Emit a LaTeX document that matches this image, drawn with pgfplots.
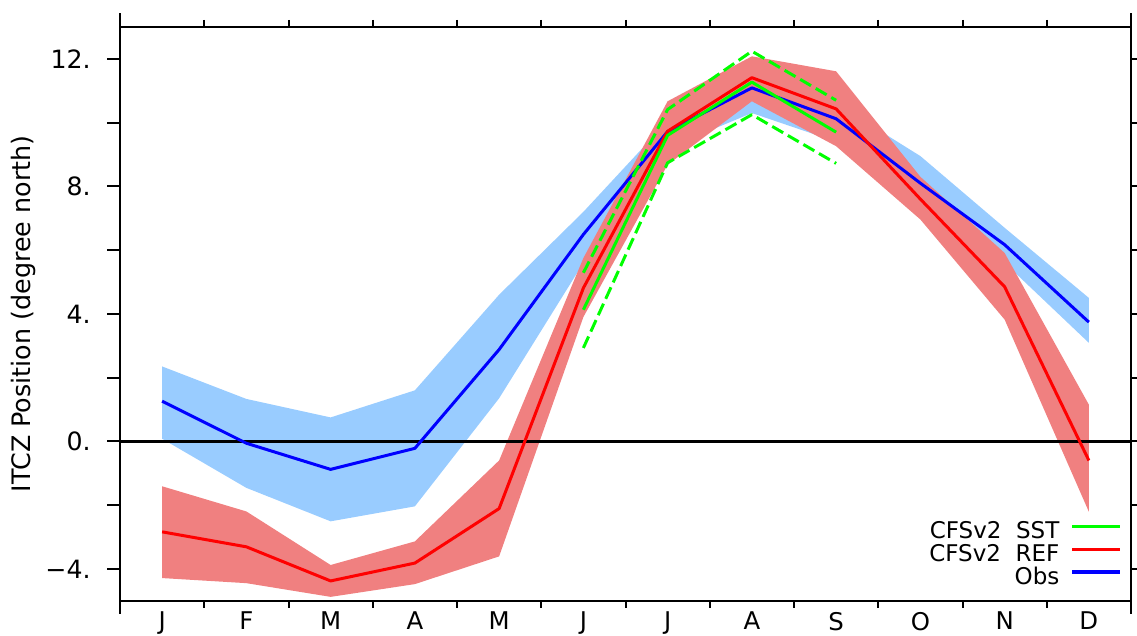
\documentclass[border=0pt]{standalone}
\usepackage{fontspec}
\setmainfont{DejaVu Sans}
\usepackage{pgfplots}
\usepackage{pgfplotstable}
\pgfplotsset{compat=1.18}
\usepgfplotslibrary{fillbetween}
\usetikzlibrary{calc}

\definecolor{obsfill}{HTML}{99CCFF}
\definecolor{reffill}{HTML}{F08080}
\definecolor{obsline}{HTML}{0000FF}
\definecolor{refline}{HTML}{FF0000}
\definecolor{sstline}{HTML}{00FF00}

% month index, Obs mean/low/high, CFSv2 REF mean/low/high
\pgfplotstableread{
x  obs   olo   ohi   ref   rlo   rhi
0  1.26  0.08  2.35  -2.84 -4.29 -1.41
1  -0.06 -1.46 1.33  -3.31 -4.45 -2.20
2  -0.88 -2.51 0.75  -4.38 -4.88 -3.88
3  -0.22 -2.04 1.60  -3.82 -4.48 -3.14
4  2.88  1.35  4.60  -2.11 -3.61 -0.60
5  6.49  5.60  7.20  4.81  3.90  5.75
6  9.72  9.20  10.05 9.73  8.68  10.67
7  11.09 10.30 11.80 11.41 10.67 12.08
8  10.12 9.40  10.60 10.43 9.26  11.61
9  8.10  7.50  8.95  7.60  6.96  8.30
10 6.17  5.60  6.70  4.85  3.82  5.91
11 3.74  3.09  4.50  -0.60 -2.21 1.15
}\itcz

% CFSv2 SST run, June to September
\pgfplotstableread{
x sst   slo   shi
5 4.13  2.93  5.29
6 9.60  8.74  10.41
7 11.27 10.25 12.24
8 9.70  8.72  10.70
}\sst

\begin{document}
\begin{tikzpicture}
\begin{axis}[
    name=ax,
    scale only axis,
    width=505.5pt,
    height=286.85pt,
    xmin=-0.5, xmax=11.5,
    ymin=-5, ymax=13,
    axis line style={line width=1pt},
    every tick/.style={black, line width=1pt},
    tick align=outside,
    major tick length=6.5pt,
    minor tick length=3.5pt,
    xtick={0,...,11},
    xticklabels={J,F,M,A,M,J,J,A,S,O,N,D},
    major x tick style={draw=none},
    minor xtick={-0.5,0.5,...,11.5},
    ytick={-4,-2,...,12},
    yticklabels={−4.,,0.,,4.,,8.,,12.},
    ticklabel style={font=\fontsize{12.6}{14}\selectfont},
    yticklabel style={anchor=east, inner sep=0pt, xshift=-8pt},
    xticklabel style={anchor=north, inner sep=0pt, yshift=1pt, text depth=0pt,
        font=\fontsize{12.2}{14}\selectfont},
    ylabel={ITCZ Position (degree north)},
    every axis y label/.style={at={(axis description cs:-0.0955,0.5)}, rotate=90, anchor=center, font=\fontsize{12.7}{14}\selectfont},
    legend style={at={(rel axis cs:1,0)}, anchor=south east, xshift=-4.5pt, yshift=5pt,
        draw=none, fill=none, inner sep=0pt, row sep=0pt, column sep=5.5pt,
        font=\fontsize{11.5}{11.4}\selectfont,
        nodes={inner sep=0pt, text height=8.5pt, text depth=2.9pt}},
    legend cell align=right,
    legend plot pos=right,
    legend image code/.code={\draw[#1] (0pt,3.4pt) -- (24pt,3.4pt);},
]
% zero line
\addplot[black, line width=1.3pt, forget plot] coordinates {(-0.5,0) (11.5,0)};

% spread bands
\addplot[name path=olo, draw=none, forget plot] table[x=x, y=olo] {\itcz};
\addplot[name path=ohi, draw=none, forget plot] table[x=x, y=ohi] {\itcz};
\addplot[fill=obsfill, draw=none, forget plot] fill between[of=olo and ohi];
\addplot[name path=rlo, draw=none, forget plot] table[x=x, y=rlo] {\itcz};
\addplot[name path=rhi, draw=none, forget plot] table[x=x, y=rhi] {\itcz};
\addplot[fill=reffill, draw=none, forget plot] fill between[of=rlo and rhi];

% mean lines
\addplot[obsline, line width=1.5pt, line join=round, forget plot] table[x=x, y=obs] {\itcz};
\addplot[refline, line width=1.5pt, line join=round, forget plot] table[x=x, y=ref] {\itcz};
\addplot[sstline, line width=1.5pt, line join=round, dash pattern=on 6.3pt off 2.7pt, forget plot] table[x=x, y=shi] {\sst};
\addplot[sstline, line width=1.5pt, line join=round, dash pattern=on 6.3pt off 2.7pt, forget plot] table[x=x, y=slo] {\sst};
\addplot[sstline, line width=1.5pt, line join=round, forget plot] table[x=x, y=sst] {\sst};

\addlegendimage{sstline, line width=1.6pt}
\addlegendentry{CFSv2\ \ SST}
\addlegendimage{refline, line width=1.6pt}
\addlegendentry{CFSv2\ \ REF}
\addlegendimage{obsline, line width=1.6pt}
\addlegendentry{Obs}
\end{axis}
% corner tick extensions
\draw[line width=1pt] (ax.south west) -- ++(0,-6.5pt);
\draw[line width=1pt] (ax.north west) -- ++(0,7pt);
\draw[line width=1pt] (ax.south east) -- ++(0,-6.5pt);
\draw[line width=1pt] (ax.north east) -- ++(0,7pt);
\pgfresetboundingbox
\path[use as bounding box] ($(ax.south west)+(-60pt,-17.65pt)$) rectangle ($(ax.north east)+(3pt,13.5pt)$);
\end{tikzpicture}
\end{document}
